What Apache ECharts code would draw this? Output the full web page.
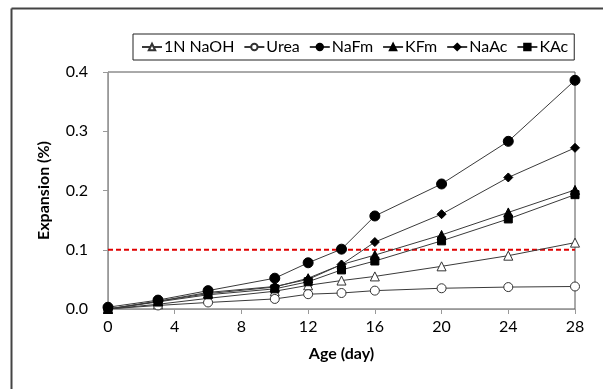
<!DOCTYPE html>
<html>
<head>
<meta charset="utf-8">
<script src="https://cdn.jsdelivr.net/npm/echarts@6/dist/echarts.min.js"></script>
<style>
  html, body { margin: 0; padding: 0; background: #fff; }
  #main { width: 603px; height: 389px; }
</style>
</head>
<body>
<div id="main"></div>
<script>
// 龄期 (day)
const ages = [0, 3, 6, 10, 12, 14, 16, 20, 24, 28];
// 各溶液膨胀率 (%)
const naoh = [0, 0.008, 0.018, 0.030, 0.040, 0.048, 0.055, 0.072, 0.090, 0.112];
const urea = [0, 0.006, 0.011, 0.017, 0.025, 0.027, 0.031, 0.035, 0.037, 0.038];
const nafm = [0.003, 0.015, 0.031, 0.052, 0.078, 0.101, 0.157, 0.211, 0.283, 0.386];
const kfm = [0, 0.013, 0.026, 0.037, 0.052, 0.075, 0.091, 0.125, 0.163, 0.201];
const naac = [0, 0.013, 0.028, 0.038, 0.050, 0.075, 0.113, 0.160, 0.222, 0.272];
const kac = [0, 0.012, 0.024, 0.034, 0.046, 0.066, 0.081, 0.115, 0.152, 0.193];
const limit = 0.1;

const font = 'Lato';

function pairs(vals) {
  return ages.map((a, i) => [a, vals[i]]);
}

function line(name, vals, symbol, size, filled) {
  return {
    name: name,
    type: 'line',
    data: pairs(vals),
    symbol: symbol,
    symbolSize: size,
    showSymbol: true,
    lineStyle: { color: '#3a3a3a', width: 1 },
    itemStyle: filled
      ? { color: '#000', borderColor: '#000', borderWidth: 1 }
      : { color: '#fff', borderColor: '#333', borderWidth: 1 },
    animation: false
  };
}

const series = [
  line('1N NaOH', naoh, 'triangle', 9, false),
  line('Urea', urea, 'circle', 9, false),
  line('NaFm', nafm, 'circle', 10, true),
  line('KFm', kfm, 'triangle', 9, true),
  line('NaAc', naac, 'diamond', 9, true),
  line('KAc', kac, 'rect', 8, true)
];

// 0.1% 限值红色虚线
series.push({
  type: 'line',
  data: [[0, limit], [28, limit]],
  symbol: 'none',
  lineStyle: { color: '#e00000', width: 2, type: [5, 3] },
  silent: true,
  z: 1,
  animation: false
});

const chart = echarts.init(document.getElementById('main'));
chart.setOption({
  backgroundColor: '#fff',
  textStyle: { fontFamily: font },
  graphic: [
    { type: 'line', shape: { x1: 11.5, y1: 8.5, x2: 603, y2: 8.5 }, style: { stroke: '#444', lineWidth: 2 } },
    { type: 'line', shape: { x1: 11.5, y1: 8.5, x2: 11.5, y2: 389 }, style: { stroke: '#444', lineWidth: 2 } }
  ],
  legend: {
    data: ['1N NaOH', 'Urea', 'NaFm', 'KFm', 'NaAc', 'KAc'],
    left: 133,
    top: 34,
    itemWidth: 20,
    itemHeight: 8,
    itemGap: 9,
    padding: [5, 6, 5, 8],
    borderColor: '#222',
    borderWidth: 1,
    borderRadius: 0,
    textStyle: { fontFamily: font, fontSize: 16, color: '#000', padding: [0, 0, 0, -3] }
  },
  grid: {
    left: 108,
    right: 28,
    top: 72,
    bottom: 80,
    show: true,
    borderColor: '#555',
    borderWidth: 1
  },
  xAxis: {
    type: 'value',
    min: 0,
    max: 28,
    interval: 4,
    name: 'Age (day)',
    nameLocation: 'middle',
    nameGap: 37,
    nameTextStyle: { fontFamily: font, fontSize: 16, fontWeight: 'bold', color: '#000' },
    axisLine: { show: true, lineStyle: { color: '#999' } },
    axisTick: { show: true, length: 5, lineStyle: { color: '#999' } },
    axisLabel: { fontFamily: font, fontSize: 16, color: '#000', margin: 10 },
    splitLine: { show: false }
  },
  yAxis: {
    type: 'value',
    min: 0,
    max: 0.4,
    interval: 0.1,
    name: 'Expansion (%)',
    nameLocation: 'middle',
    nameGap: 56,
    nameTextStyle: { fontFamily: font, fontSize: 16, fontWeight: 'bold', color: '#000' },
    axisLine: { show: true, lineStyle: { color: '#999' } },
    axisTick: { show: true, length: 5, lineStyle: { color: '#999' } },
    axisLabel: { fontFamily: font, fontSize: 16, color: '#000', margin: 20, formatter: v => v.toFixed(1) },
    splitLine: { show: false }
  },
  series: series
});
</script>
</body>
</html>
